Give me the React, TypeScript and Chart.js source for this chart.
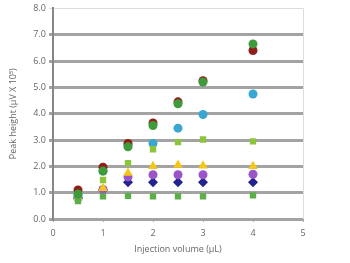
import React, { useEffect, useRef } from "react";
import { Chart, registerables } from "chart.js";

Chart.register(...registerables);

const volumes = [0.5, 1, 1.5, 2, 2.5, 3, 4];
const seriesRed = [1.1, 1.97, 2.87, 3.65, 4.45, 5.25, 6.4];
const seriesGreen = [0.95, 1.82, 2.74, 3.55, 4.38, 5.2, 6.65];
const seriesBlue = [0.9, 1.82, 2.8, 2.87, 3.45, 3.97, 4.75];
const seriesLime = [0.82, 1.48, 2.12, 2.65, 2.92, 3.02, 2.95];
const seriesYellow = [0.82, 1.17, 1.75, 2.0, 2.05, 2.02, 2.0];
const seriesPurple = [0.8, 1.12, 1.6, 1.68, 1.68, 1.68, 1.7];
const seriesNavy = [0.8, 1.1, 1.4, 1.4, 1.4, 1.4, 1.4];
const seriesGreenSq = [0.68, 0.86, 0.88, 0.86, 0.86, 0.86, 0.9];

const yTicks = [0, 1, 2, 3, 4, 5, 6, 7, 8];
const xTicks = [0, 1, 2, 3, 4, 5];

function pts(vals: number[]) {
  return vals.map((v, i) => ({ x: volumes[i], y: v }));
}

export default function App() {
  const ref = useRef<HTMLCanvasElement | null>(null);
  useEffect(() => {
    document.body.style.margin = "0";
    if (!ref.current) return;
    const font = { family: "Open Sans", size: 9 };
    const mk = (vals: number[], color: string, style: any, r = 4.5) => ({
      data: pts(vals),
      backgroundColor: color,
      borderColor: color,
      pointStyle: style,
      pointRadius: r,
      pointBorderWidth: 0,
      showLine: false,
    });
    // Chart.js paints dataset 0 last (on top)
    const chart = new Chart(ref.current, {
      type: "scatter",
      data: {
        datasets: [
          mk(seriesGreen, "#3d9b3a", "circle", 4.5),
          mk(seriesRed, "#8f1d18", "circle", 4.5),
          mk(seriesGreenSq, "#5aaf46", "rect", 4.5),
          mk(seriesLime, "#8cc43c", "rect", 4.5),
          mk(seriesBlue, "#3aa6d2", "circle", 4.5),
          mk(seriesYellow, "#f5c518", "triangle", 5.5),
          mk(seriesPurple, "#9c55c8", "circle", 4.5),
          mk(seriesNavy, "#23238f", "rectRot", 5),
        ] as any,
      },
      options: {
        animation: false,
        responsive: false,
        layout: { padding: { left: 0, right: 47, top: 8, bottom: 0 } },
        plugins: { legend: { display: false }, tooltip: { enabled: false } },
        scales: {
          x: {
            type: "linear",
            min: 0,
            max: 5,
            afterFit: (s: any) => { s.height = 44; },
            afterBuildTicks: (s: any) => { s.ticks = xTicks.map((v) => ({ value: v })); },
            ticks: { color: "#666", font, padding: 6, callback: (v: any) => String(v) },
            grid: { display: true, drawOnChartArea: false, drawTicks: true, tickLength: 3, color: "#aaa" },
            border: { display: false },
            title: { display: true, text: "Injection volume (µL)", color: "#666", font, padding: { top: 0, bottom: 8 } },
          },
          y: {
            type: "linear",
            min: 0,
            max: 8,
            afterFit: (s: any) => { s.width = 53; },
            afterBuildTicks: (s: any) => { s.ticks = yTicks.map((v) => ({ value: v })); },
            ticks: { color: "#666", font, padding: 3, callback: (v: any) => Number(v).toFixed(1) },
            grid: {
              color: (c: any) => (c.tick && c.tick.value === 8 ? "#dddddd" : "#a3a3a3"),
              lineWidth: (c: any) => (c.tick && c.tick.value === 8 ? 1 : 3),
              tickLength: 4,
            },
            border: { display: true, color: "#888", width: 2 },
            title: { display: true, text: "Peak height (µV X 10⁵)", color: "#666", font, padding: { top: 8, bottom: 2 } },
          },
        },
      },
      plugins: [
        {
          id: "rightBorder",
          afterDraw: (c: any) => {
            const { ctx, chartArea } = c;
            ctx.save();
            ctx.strokeStyle = "#dddddd";
            ctx.lineWidth = 1;
            ctx.beginPath();
            ctx.moveTo(chartArea.right + 0.5, chartArea.top);
            ctx.lineTo(chartArea.right + 0.5, chartArea.bottom);
            ctx.stroke();
            ctx.restore();
          },
        },
      ],
    } as any);
    return () => chart.destroy();
  }, []);
  return (
    <div style={{ width: 350, height: 263, background: "#fff" }}>
      <canvas ref={ref} width={350} height={263} style={{ display: "block" }} />
    </div>
  );
}
